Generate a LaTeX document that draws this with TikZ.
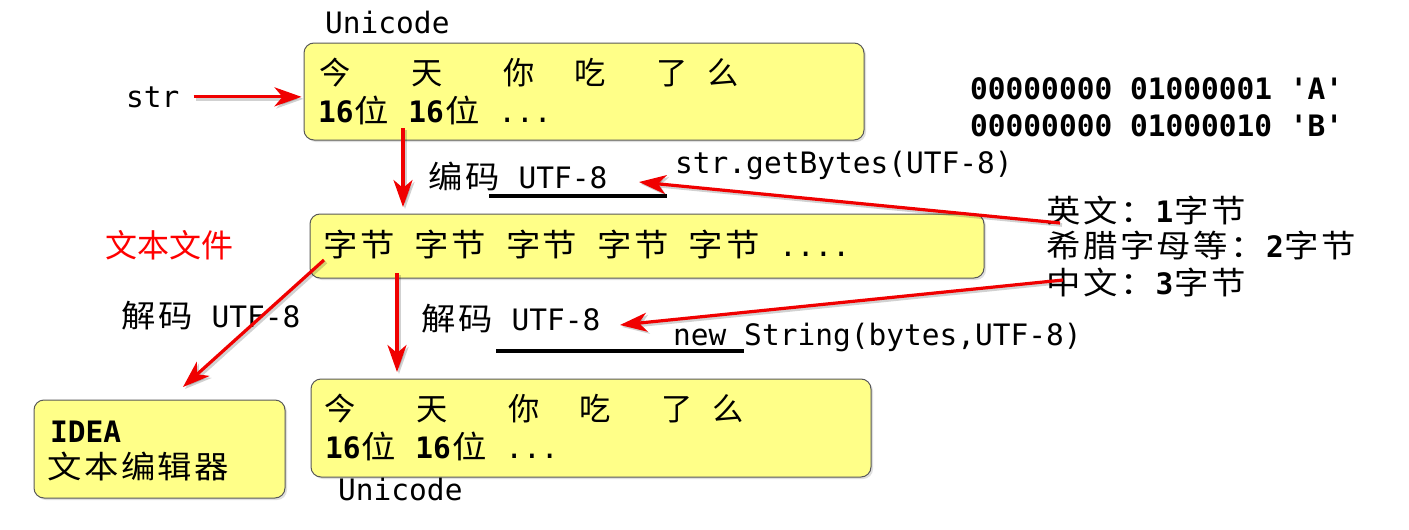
\documentclass[tikz,border=0pt]{standalone}
\usepackage{graphicx}
\usepackage{fontspec}
\setmonofont{DejaVu Sans Mono}
\newfontfamily\cjkf[Scale=1.06]{Noto Sans CJK SC}
\newfontfamily\cjkp{Noto Sans CJK SC}
\usetikzlibrary{arrows.meta,shadows}
\definecolor{boxyellow}{RGB}{255,255,136}
\definecolor{arrred}{RGB}{240,0,0}
\makeatletter
\def\cj#1{{\cjkf\cj@loop#1\relax}}
\def\cj@loop#1{\ifx#1\relax\else\makebox[36.8pt][c]{\scalebox{1.1}[1]{#1}}\expandafter\cj@loop\fi}
\makeatother
\newcommand\jintian{\cjkf\makebox[92pt][l]{今}\makebox[92pt][l]{天}\makebox[71pt][l]{你}\makebox[82pt][l]{吃}\makebox[51pt][l]{了}么}
\newcommand\sixteen{\textbf{16}\cj{位} \textbf{16}\cj{位} ...}
\tikzset{
  box/.style={draw=black!65, line width=1pt, fill=boxyellow, rounded corners=10pt,
    drop shadow={shadow xshift=2pt,shadow yshift=-2pt,opacity=0.25}, inner sep=0pt},
  txt/.style={anchor=base west, inner sep=0pt, font=\ttfamily\fontsize{29.5}{34}\selectfont},
  redarrow/.style={draw=arrred, line width=3.2pt, -{Stealth[length=27pt,width=19pt,inset=8pt]}},
  arrshadow/.style={draw=black, opacity=0.18, line width=3.6pt, -{Stealth[length=27pt,width=19pt,inset=8pt]}},
  uline/.style={draw=black, line width=3.6pt}
}
\begin{document}
\begin{tikzpicture}[x=1pt,y=-1pt]
\useasboundingbox (0,0) rectangle (1409,530);
% boxes
\node[box, minimum width=560pt, minimum height=97pt] (b1) at (584,91.5) {};
\node[box, minimum width=674pt, minimum height=64pt] (b2) at (647,246) {};
\node[box, minimum width=560pt, minimum height=98pt] (b3) at (591,428) {};
\node[box, minimum width=251pt, minimum height=98pt] (b4) at (159.5,449) {};
% texts
\node[txt] (uni1) at (325,33) {Unicode};
\node[txt] (l1a) at (319,84) {\jintian};
\node[txt] (l1b) at (318,122) {\sixteen};
\node[txt] (str) at (126,107) {str};
\node[txt] (enc) at (427,188) {\cj{编码} UTF-8};
\node[txt] (gb) at (675,173) {str.getBytes(UTF-8)};
\node[txt] (z1) at (970,99) {\textbf{00000000 01000001 'A'}};
\node[txt] (z2) at (970,136) {\textbf{00000000 01000010 'B'}};
\node[txt] (bytes) at (322,256) {\cj{字节} \cj{字节} \cj{字节} \cj{字节} \cj{字节} ....};
\node[txt, text=red, font=\cjkp\fontsize{32}{36}\selectfont] (tf) at (105,257) {文本文件};
\node[txt] (en) at (1045,222) {\cj{英文：}\textbf{1}\cj{字节}};
\node[txt] (gr) at (1045,257) {\cj{希腊字母等：}\textbf{2}\cj{字节}};
\node[txt] (zh) at (1045,294) {\cj{中文：}\textbf{3}\cj{字节}};
\node[txt] (dec) at (420,330) {\cj{解码} UTF-8};
\node[txt] (ns) at (673,345) {new String(bytes,UTF-8)};
\node[txt] (decl) at (120,327) {\cj{解码} UTF-8};
\node[txt] (l3a) at (324,420) {\jintian};
\node[txt] (l3b) at (325,458) {\sixteen};
\node[txt] (uni2) at (338,500) {Unicode};
\node[txt] (idea) at (50,442) {\textbf{IDEA}};
\node[txt] (edit) at (46,478) {\cj{文本编辑器}};
% underlines
\coordinate (u1a) at (489,196); \coordinate (u1b) at (667,196);
\coordinate (u2a) at (496,351); \coordinate (u2b) at (744,351);
\draw[uline] (u1a) -- (u1b);
\draw[uline] (u2a) -- (u2b);
% arrows
\coordinate (s1s) at ([xshift=14pt]str.east);
\coordinate (s1e) at ([xshift=-2pt]b1.west |- str.east);
\coordinate (d1s) at (403,128); \coordinate (d1e) at (403,207);
\coordinate (a1s) at (1060,223); \coordinate (a1e) at (639,182);
\coordinate (a2s) at (1063,280); \coordinate (a2e) at (620,325);
\coordinate (a3s) at (324,260); \coordinate (a3e) at (183,387);
\coordinate (d2s) at (397,273); \coordinate (d2e) at (397,372);
\foreach \p in {s1,d1,a1,a2,a3,d2}{
  \draw[arrshadow] ([shift={(2pt,-2pt)}]\p s) -- ([shift={(2pt,-2pt)}]\p e);
}
\foreach \p in {s1,d1,a1,a2,a3,d2}{
  \draw[redarrow] (\p s) -- (\p e);
}
\end{tikzpicture}
\end{document}
